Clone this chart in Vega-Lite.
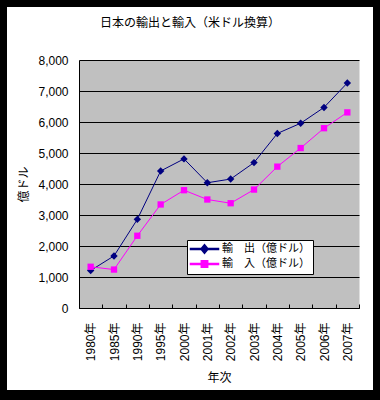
{
  "$schema": "https://vega.github.io/schema/vega-lite/v6.json",
  "width": 366,
  "height": 383,
  "autosize": {"type": "none"},
  "padding": {"left": 7, "top": 7, "right": 7, "bottom": 10},
  "background": "black",
  "title": {"text": "日本の輸出と輸入（米ドル換算）", "fontSize": 12, "fontWeight": "normal", "offset": -23, "anchor": "middle", "color": "black"},
  "data": {"values": [
    {"year": "1980年", "series": "輸　出（億ドル）", "value": 1210},
    {"year": "1985年", "series": "輸　出（億ドル）", "value": 1680},
    {"year": "1990年", "series": "輸　出（億ドル）", "value": 2860},
    {"year": "1995年", "series": "輸　出（億ドル）", "value": 4420},
    {"year": "2000年", "series": "輸　出（億ドル）", "value": 4810},
    {"year": "2001年", "series": "輸　出（億ドル）", "value": 4040},
    {"year": "2002年", "series": "輸　出（億ドル）", "value": 4160},
    {"year": "2003年", "series": "輸　出（億ドル）", "value": 4690},
    {"year": "2004年", "series": "輸　出（億ドル）", "value": 5630},
    {"year": "2005年", "series": "輸　出（億ドル）", "value": 5960},
    {"year": "2006年", "series": "輸　出（億ドル）", "value": 6470},
    {"year": "2007年", "series": "輸　出（億ドル）", "value": 7260},
    {"year": "1980年", "series": "輸　入（億ドル）", "value": 1330},
    {"year": "1985年", "series": "輸　入（億ドル）", "value": 1240},
    {"year": "1990年", "series": "輸　入（億ドル）", "value": 2330},
    {"year": "1995年", "series": "輸　入（億ドル）", "value": 3340},
    {"year": "2000年", "series": "輸　入（億ドル）", "value": 3800},
    {"year": "2001年", "series": "輸　入（億ドル）", "value": 3500},
    {"year": "2002年", "series": "輸　入（億ドル）", "value": 3380},
    {"year": "2003年", "series": "輸　入（億ドル）", "value": 3820},
    {"year": "2004年", "series": "輸　入（億ドル）", "value": 4560},
    {"year": "2005年", "series": "輸　入（億ドル）", "value": 5160},
    {"year": "2006年", "series": "輸　入（億ドル）", "value": 5800},
    {"year": "2007年", "series": "輸　入（億ドル）", "value": 6310}
  ]},
  "layer": [
    {
      "mark": {"type": "line", "strokeWidth": 1},
      "encoding": {
        "x": {
          "field": "year", "type": "ordinal", "sort": null,
          "scale": {"range": [72, 352], "paddingInner": 0, "paddingOuter": 0},
          "axis": {
            "title": "年次", "orient": "bottom", "offset": -82, "zindex": 1,
            "labelAngle": -90, "labelFontSize": 12, "labelPadding": 18, "labelColor": "black",
            "tickBand": "extent", "ticks": true, "tickSize": -4, "tickColor": "black",
            "domainColor": "black", "grid": false,
            "titleFontSize": 12, "titleFontWeight": "normal", "titleColor": "black", "titlePadding": 12
          }
        },
        "y": {
          "field": "value", "type": "quantitative",
          "scale": {"domain": [0, 8000], "range": [301, 53], "nice": false, "zero": true},
          "axis": {
            "orient": "left", "offset": -72, "values": [4000], "grid": true,
            "gridColor": "#C0C0C0", "gridWidth": 248, "gridOpacity": 1,
            "labels": false, "ticks": false, "domain": false, "title": null, "zindex": 0
          }
        },
        "color": {
          "field": "series", "type": "nominal", "sort": null,
          "scale": {"domain": ["輸　出（億ドル）", "輸　入（億ドル）"], "range": ["#000080", "#FF00FF"]},
          "legend": {
            "title": null, "orient": "none", "legendX": 180, "legendY": 233,
            "fillColor": "white", "strokeColor": "black",
            "padding": 3, "rowPadding": 0,
            "symbolSize": 100, "symbolOpacity": 1,
            "labelFontSize": 11, "labelOffset": 20, "labelColor": "black"
          }
        }
      }
    },
    {
      "transform": [{"filter": "datum.series === '輸　出（億ドル）'"}],
      "mark": {"type": "point", "shape": "diamond", "filled": true, "opacity": 1, "size": 55},
      "encoding": {
        "x": {"field": "year", "type": "ordinal", "sort": null},
        "y": {
          "field": "value", "type": "quantitative",
          "axis": {
            "orient": "left", "offset": -72,
            "values": [0, 1000, 2000, 3000, 4000, 5000, 6000, 7000, 8000],
            "grid": true,
            "gridColor": "black",
            "gridWidth": 1, "gridOpacity": 1,
            "ticks": false, "labelPadding": 11, "labelFontSize": 12, "labelColor": "black",
            "domainColor": "black",
            "title": "億ドル", "titleFontSize": 12, "titleFontWeight": "normal", "titleColor": "black", "titlePadding": 7,
            "zindex": 0
          }
        },
        "color": {"field": "series", "type": "nominal", "sort": null}
      }
    },
    {
      "transform": [{"filter": "datum.series === '輸　入（億ドル）'"}],
      "mark": {"type": "point", "shape": "square", "filled": true, "opacity": 1, "size": 40},
      "encoding": {
        "x": {"field": "year", "type": "ordinal", "sort": null},
        "y": {"field": "value", "type": "quantitative", "axis": null},
        "color": {"field": "series", "type": "nominal", "sort": null}
      }
    },
    {
      "mark": {"type": "point", "filled": true, "opacity": 0},
      "encoding": {
        "x": {"field": "year", "type": "ordinal", "sort": null},
        "y": {"field": "value", "type": "quantitative", "axis": null},
        "color": {"field": "series", "type": "nominal", "sort": null},
        "shape": {
          "field": "series", "type": "nominal", "sort": null,
          "scale": {"domain": ["輸　出（億ドル）", "輸　入（億ドル）"], "range": ["M-1.1,-0.1H4.5V0.1H-1.1ZM0.98,0L1.7,-0.86L2.42,0L1.7,0.86Z", "M-1.1,-0.1H4.5V0.1H-1.1ZM1.06,-0.64H2.34V0.64H1.06Z"]},
          "legend": {
            "title": null, "orient": "none", "legendX": 180, "legendY": 233,
            "fillColor": "white", "strokeColor": "black",
            "padding": 3, "rowPadding": 0,
            "symbolSize": 100, "symbolOpacity": 1,
            "labelFontSize": 11, "labelOffset": 20, "labelColor": "black"
          }
        }
      }
    }
  ],
  "resolve": {"axis": {"y": "independent"}},
  "config": {
    "view": {"fill": "white", "stroke": null},
    "font": "'Liberation Sans', 'Noto Sans CJK JP', sans-serif"
  }
}
